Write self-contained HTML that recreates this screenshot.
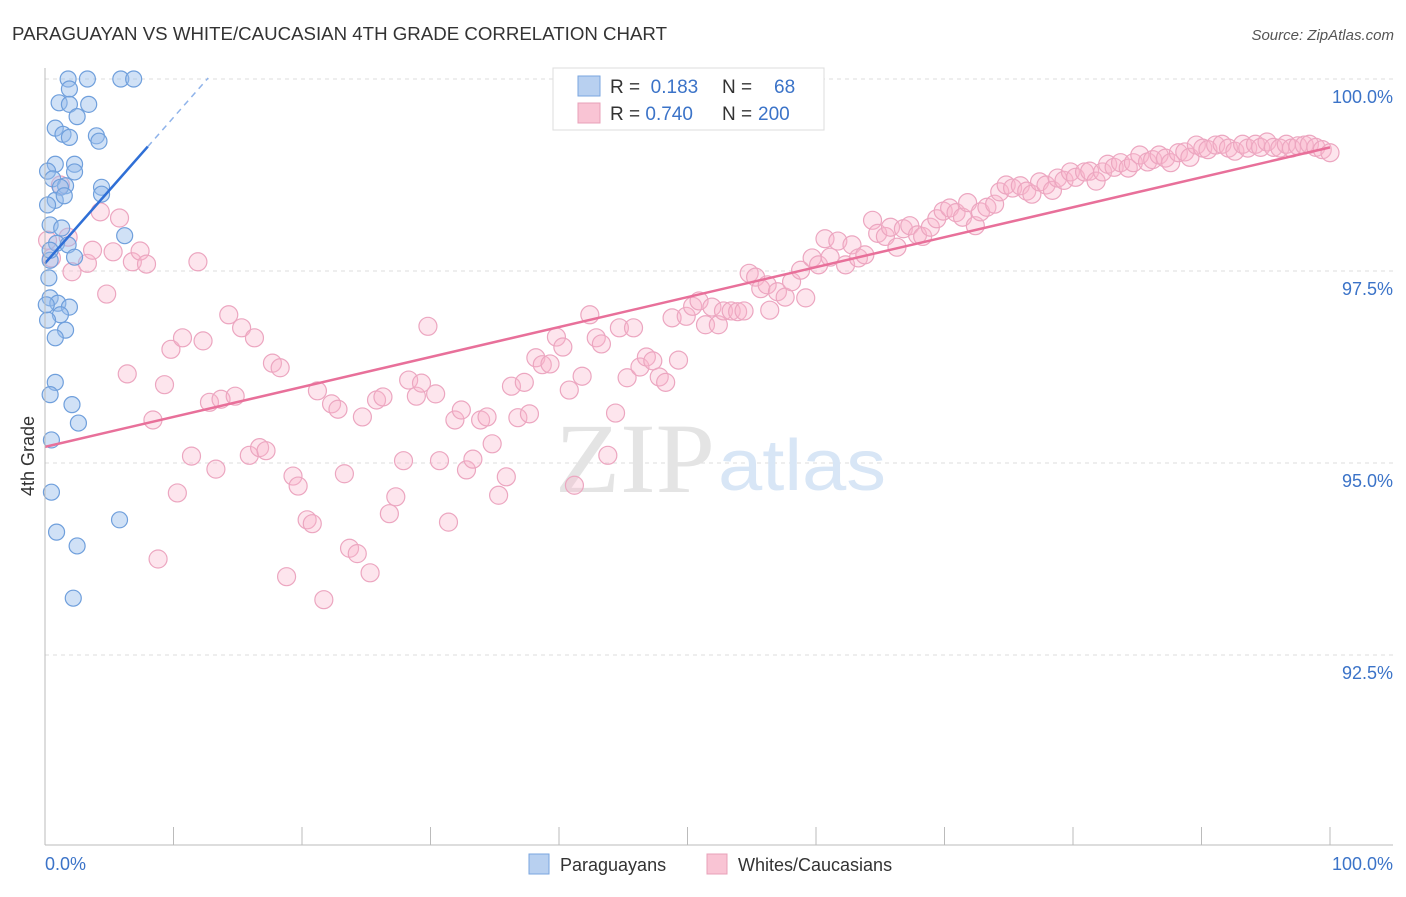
<!DOCTYPE html>
<html><head><meta charset="utf-8"><style>
body{margin:0;background:#fff;font-family:"Liberation Sans",sans-serif;}
svg text{font-family:"Liberation Sans",sans-serif;}
</style></head><body>
<svg id="chart" width="1406" height="892" xmlns="http://www.w3.org/2000/svg">
<text x="12" y="40" font-size="18" fill="#333" textLength="655" lengthAdjust="spacingAndGlyphs">PARAGUAYAN VS WHITE/CAUCASIAN 4TH GRADE CORRELATION CHART</text>
<text x="1394" y="40" font-size="15" fill="#555" text-anchor="end" font-style="italic">Source: ZipAtlas.com</text>
<text transform="translate(34,456) rotate(-90)" font-size="18" fill="#333" text-anchor="middle">4th Grade</text>
<g id="grid"></g>
<g id="ylabels"></g>
<g id="xticks"></g>
<text x="555" y="492" font-size="100" fill="#e4e4e4" font-family="Liberation Serif" textLength="160" lengthAdjust="spacingAndGlyphs" style="font-family:'Liberation Serif',serif">ZIP</text>
<text x="718" y="490" font-size="72" fill="#d8e6f6" textLength="168" lengthAdjust="spacingAndGlyphs">atlas</text>
<g id="pink"></g>
<g id="blue"></g>
<g id="trends"></g>
<line x1="45" y1="68" x2="45" y2="845" stroke="#bbb"/>
<line x1="45" y1="845" x2="1393" y2="845" stroke="#bbb"/>
<text x="45" y="870" font-size="18" fill="#3b73c8">0.0%</text>
<text x="1393" y="870" font-size="18" fill="#3b73c8" text-anchor="end">100.0%</text>
<g>
<rect x="553" y="68" width="271" height="62" fill="#fff" stroke="#ddd"/>
<rect x="578" y="76" width="22" height="20" fill="#b8d0f0" stroke="#7aa6df"/>
<rect x="578" y="103" width="22" height="20" fill="#f9c4d4" stroke="#e8a0b8"/>
<text x="610" y="93" font-size="19" fill="#333">R = <tspan fill="#3b73c8">&#160;0.183</tspan><tspan x="722">N = </tspan><tspan x="774" fill="#3b73c8">68</tspan></text>
<text x="610" y="120" font-size="19" fill="#333">R = <tspan fill="#3b73c8">0.740</tspan><tspan x="722">N = </tspan><tspan x="758" fill="#3b73c8">200</tspan></text>
</g>
<g>
<rect x="529" y="854" width="20" height="20" fill="#b8d0f0" stroke="#7aa6df"/>
<text x="560" y="871" font-size="18" fill="#333">Paraguayans</text>
<rect x="707" y="854" width="20" height="20" fill="#f9c4d4" stroke="#e8a0b8"/>
<text x="738" y="871" font-size="18" fill="#333">Whites/Caucasians</text>
</g>
</svg>
<script>
const yTicks=[100,97.5,95,92.5];
const yTickLabels=["100.0%","97.5%","95.0%","92.5%"];
const xTicks=[0,10,20,30,40,50,60,70,80,90,100];
const pinkX=[0.2,0.5,1.2,1.8,2.1,3.3,3.7,4.3,4.8,5.3,5.8,6.4,6.8,7.4,7.9,8.4,8.8,9.3,9.8,10.3,10.7,11.4,11.9,12.3,12.8,13.3,13.7,14.3,14.8,15.3,15.9,16.3,16.7,17.2,17.7,18.3,18.8,19.3,19.7,20.4,20.8,21.2,21.7,22.3,22.8,23.3,23.7,24.3,24.7,25.3,25.8,26.3,26.8,27.3,27.9,28.3,28.9,29.3,29.8,30.4,30.7,31.4,31.9,32.4,32.8,33.3,33.9,34.4,34.8,35.3,35.9,36.3,36.8,37.3,37.7,38.2,38.7,39.3,39.8,40.3,40.8,41.2,41.8,42.4,42.9,43.3,43.8,44.4,44.7,45.3,45.8,46.3,46.8,47.3,47.8,48.3,48.8,49.3,49.9,50.4,50.9,51.4,51.9,52.4,52.8,53.4,53.9,54.4,54.8,55.3,55.7,56.2,56.4,57.0,57.6,58.1,58.8,59.2,59.7,60.2,60.7,61.1,61.7,62.3,62.8,63.3,63.8,64.4,64.8,65.4,65.8,66.3,66.8,67.3,67.9,68.3,68.9,69.4,69.9,70.4,70.9,71.4,71.8,72.4,72.8,73.3,73.9,74.3,74.8,75.3,75.9,76.4,76.8,77.4,77.9,78.4,78.8,79.3,79.8,80.2,80.9,81.3,81.8,82.3,82.7,83.2,83.7,84.3,84.7,85.2,85.8,86.2,86.7,87.2,87.6,88.2,88.7,89.1,89.6,90.1,90.5,91.1,91.6,92.1,92.6,93.2,93.6,94.2,94.6,95.1,95.6,96.1,96.6,97.0,97.5,98.0,98.4,98.9,99.4,100];
const pinkY=[97.90,97.67,98.62,97.94,97.49,97.60,97.77,98.27,97.20,97.75,98.19,96.16,97.62,97.76,97.59,95.56,93.75,96.02,96.48,94.61,96.63,95.09,97.62,96.59,95.79,94.92,95.83,96.93,95.87,96.76,95.10,96.63,95.20,95.16,96.30,96.24,93.52,94.83,94.70,94.26,94.21,95.94,93.22,95.77,95.70,94.86,93.89,93.82,95.60,93.57,95.82,95.86,94.34,94.56,95.03,96.08,95.87,96.04,96.78,95.90,95.03,94.23,95.56,95.69,94.91,95.05,95.56,95.60,95.25,94.58,94.82,96.00,95.59,96.05,95.64,96.37,96.28,96.29,96.64,96.51,95.95,94.71,96.13,96.93,96.63,96.55,95.10,95.65,96.76,96.11,96.76,96.25,96.38,96.33,96.12,96.05,96.89,96.34,96.91,97.04,97.11,96.80,97.03,96.80,96.98,96.98,96.97,96.98,97.47,97.42,97.27,97.32,96.99,97.23,97.16,97.36,97.51,97.15,97.67,97.58,97.92,97.68,97.89,97.58,97.84,97.67,97.71,98.16,97.99,97.95,98.07,97.81,98.05,98.09,97.97,97.95,98.07,98.18,98.28,98.32,98.26,98.20,98.39,98.09,98.27,98.33,98.37,98.53,98.62,98.58,98.61,98.54,98.50,98.66,98.62,98.55,98.71,98.68,98.79,98.72,98.79,98.80,98.67,98.79,98.89,98.85,98.91,98.84,98.91,99.01,98.92,98.95,99.01,98.97,98.91,99.04,99.05,98.98,99.14,99.10,99.08,99.14,99.15,99.10,99.06,99.15,99.10,99.15,99.11,99.18,99.11,99.10,99.15,99.10,99.13,99.14,99.15,99.11,99.08,99.04];
const blueX=[1.8,3.3,5.9,6.9,1.9,1.1,1.9,3.4,2.5,0.8,1.4,1.9,4.0,4.2,0.8,2.3,0.2,0.6,1.6,2.3,4.4,1.2,4.4,0.8,1.5,0.2,0.4,0.9,6.2,1.8,0.4,2.3,0.3,0.4,1.0,1.9,1.2,1.6,0.8,0.8,0.4,2.1,2.6,0.5,0.5,0.9,2.5,2.2,5.8,0.2,0.1,0.4,1.3];
const blueY=[100,100,100,100,99.87,99.69,99.67,99.67,99.51,99.36,99.28,99.24,99.26,99.19,98.89,98.89,98.80,98.70,98.61,98.79,98.59,98.59,98.50,98.42,98.48,98.36,98.10,97.86,97.96,97.84,97.64,97.68,97.41,97.15,97.08,97.03,96.93,96.73,96.63,96.05,95.89,95.76,95.52,95.30,94.62,94.10,93.92,93.24,94.26,96.86,97.06,97.77,98.06];
const pinkTrend=[95.21,99.11];
const blueTrend=[97.60,0.19];
const NS="http://www.w3.org/2000/svg";
const xs=v=>45+v*12.85;
const ys=v=>79+(100-v)*76.8;
function mk(tag,attrs,parent){const e=document.createElementNS(NS,tag);for(const k in attrs)e.setAttribute(k,attrs[k]);parent.appendChild(e);return e;}
const grid=document.getElementById('grid'),yl=document.getElementById('ylabels'),xt=document.getElementById('xticks');
yTicks.forEach((t,i)=>{
 const l=mk('line',{x1:45,x2:1393,y1:ys(t),y2:ys(t),stroke:'#ddd','stroke-dasharray':'4,4'},grid);
 
 
 const tx=mk('text',{x:1393,y:ys(t)+24,'font-size':18,fill:'#3b73c8','text-anchor':'end'},yl);
 tx.textContent=yTickLabels[i];
 
 
});
xTicks.forEach(t=>{
 const l=mk('line',{x1:xs(t),x2:xs(t),y1:827,y2:845,stroke:'#bbb'},xt);
 
 
});
const pg=document.getElementById('pink');
pinkX.forEach((x,i)=>{
 const c=mk('circle',{cx:xs(x),cy:ys(pinkY[i]),r:9,fill:'rgba(248,180,204,0.35)',stroke:'#eca6c0','stroke-width':1.2},pg);
 
 
});
const bg=document.getElementById('blue');
blueX.forEach((x,i)=>{
 const c=mk('circle',{cx:xs(x),cy:ys(blueY[i]),r:8,fill:'rgba(150,188,236,0.45)',stroke:'#6f9fdc','stroke-width':1.2},bg);
 
 
});
const tg=document.getElementById('trends');
const pl=mk('line',{x1:xs(0),y1:ys(pinkTrend[0]),x2:xs(100),y2:ys(pinkTrend[1]),stroke:'#e8709a','stroke-width':2.5},tg);


const bl=mk('line',{x1:xs(0),y1:ys(blueTrend[0]),x2:xs(8),y2:ys(blueTrend[0]+8*blueTrend[1]),stroke:'#2f6fd6','stroke-width':2.5},tg);


const bd=mk('line',{x1:xs(8),y1:ys(blueTrend[0]+8*blueTrend[1]),x2:xs(12.7),y2:ys(blueTrend[0]+12.7*blueTrend[1]),stroke:'#8fb3ea','stroke-width':1.5,'stroke-dasharray':'6,5'},tg);


</script>
</body></html>
